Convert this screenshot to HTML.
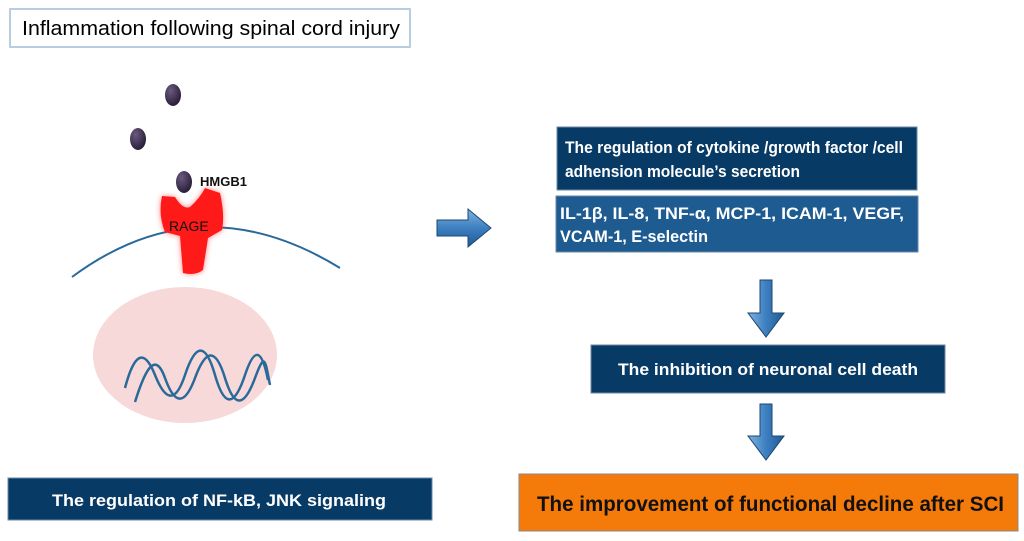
<!DOCTYPE html>
<html><head><meta charset="utf-8"><style>
html,body{margin:0;padding:0;background:#fff;width:1024px;height:541px;overflow:hidden}
svg{display:block}
text{font-family:"Liberation Sans",sans-serif}
</style></head><body>
<svg width="1024" height="541" viewBox="0 0 1024 541" xmlns="http://www.w3.org/2000/svg">
<defs>
<linearGradient id="ar" x1="0" y1="0" x2="0" y2="1"><stop offset="0" stop-color="#7fb2e0"/><stop offset="0.5" stop-color="#3d7fc0"/><stop offset="1" stop-color="#1f5a93"/></linearGradient>
<linearGradient id="ad" x1="0" y1="0" x2="1" y2="0"><stop offset="0" stop-color="#7fb2e0"/><stop offset="0.5" stop-color="#3d7fc0"/><stop offset="1" stop-color="#1f5a93"/></linearGradient>
<radialGradient id="dot" cx="0.35" cy="0.3" r="0.7"><stop offset="0" stop-color="#6a5a80"/><stop offset="1" stop-color="#2a1f3a"/></radialGradient>
<filter id="glow" x="-30%" y="-30%" width="160%" height="160%"><feGaussianBlur stdDeviation="3"/></filter>
</defs>
<rect x="10" y="9" width="400" height="38" fill="#fff" stroke="#b8cde0" stroke-width="2"/>
<text x="22" y="35" font-size="20" fill="#000" textLength="378" lengthAdjust="spacingAndGlyphs">Inflammation following  spinal cord injury</text>
<ellipse cx="173" cy="95" rx="8" ry="11" fill="url(#dot)"/>
<ellipse cx="138" cy="139" rx="8" ry="11" fill="url(#dot)"/>
<ellipse cx="184" cy="182" rx="8" ry="11" fill="url(#dot)"/>
<text x="200" y="186" font-size="13" font-weight="bold" fill="#111">HMGB1</text>
<ellipse cx="185" cy="355" rx="92" ry="68" fill="#f7d9d9"/>
<path d="M72 277 Q200 182 340 268" fill="none" stroke="#2a6a9a" stroke-width="2"/>
<g>
<path d="M162 196 L175 197 Q183 210 190 207 Q200 198 205 188 L220 193 Q225 215 222 230 L208 238 L203 270 Q195 276 183 273 L180 236 L165 232 Q158 215 162 196Z" fill="#ff3030" filter="url(#glow)" opacity="0.6"/>
<path d="M162 196 L175 197 Q183 210 190 207 Q200 198 205 188 L220 193 Q225 215 222 230 L208 238 L203 270 Q195 276 183 273 L180 236 L165 232 Q158 215 162 196Z" fill="#ff1a1a"/>
</g>
<text x="169" y="231" font-size="14" fill="#111">RAGE</text>
<g fill="none" stroke="#2a6a9a" stroke-width="2.5">
<path d="M125 388 C135 350 145 350 155 375 S175 405 185 375 S205 340 215 375 S235 405 245 375 S262 350 268 380"/>
<path d="M135 402 C145 370 155 350 165 378 S185 405 195 378 S215 345 225 378 S245 405 255 378 S265 360 270 385"/>
</g>
<rect x="8" y="478" width="424" height="42" fill="#083a66" stroke="#6a8aa8"/>
<text x="52" y="506" font-size="17" font-weight="bold" fill="#fff" textLength="334" lengthAdjust="spacingAndGlyphs">The regulation of  NF-kB, JNK signaling</text>
<path d="M437 220 L468 220 L468 209 L491 228 L468 247 L468 236 L437 236Z" fill="url(#ar)" stroke="#1b4870" stroke-width="1"/>
<rect x="557" y="127" width="360" height="63" fill="#083a66" stroke="#6a8aa8"/>
<text font-size="17" font-weight="bold" fill="#fff"><tspan x="565" y="153" textLength="338" lengthAdjust="spacingAndGlyphs">The regulation of  cytokine /growth factor /cell</tspan><tspan x="565" y="177" textLength="235" lengthAdjust="spacingAndGlyphs">adhension molecule’s secretion</tspan></text>
<rect x="556" y="196" width="362" height="56" fill="#1e5b91" stroke="#6a8aa8"/>
<text font-size="17" font-weight="bold" fill="#fff"><tspan x="560" y="219" textLength="344" lengthAdjust="spacingAndGlyphs">IL-1β,  IL-8, TNF-α, MCP-1, ICAM-1, VEGF,</tspan><tspan x="560" y="242" textLength="148" lengthAdjust="spacingAndGlyphs">VCAM-1, E-selectin</tspan></text>
<path d="M760 280 L772 280 L772 313 L784 313 L766 337 L748 313 L760 313Z" fill="url(#ad)" stroke="#1b4870"/>
<rect x="591" y="345" width="354" height="48" fill="#083a66" stroke="#6a8aa8"/>
<text x="618" y="375" font-size="17" font-weight="bold" fill="#fff" textLength="300" lengthAdjust="spacingAndGlyphs">The inhibition of neuronal cell death</text>
<path d="M760 404 L772 404 L772 436 L784 436 L766 460 L748 436 L760 436Z" fill="url(#ad)" stroke="#1b4870"/>
<rect x="519" y="474" width="499" height="57" fill="#f47a0a" stroke="#8a8a8a"/>
<text x="537" y="511" font-size="21" font-weight="bold" fill="#111" textLength="467" lengthAdjust="spacingAndGlyphs">The improvement of functional  decline after SCI</text>
</svg>
</body></html>
